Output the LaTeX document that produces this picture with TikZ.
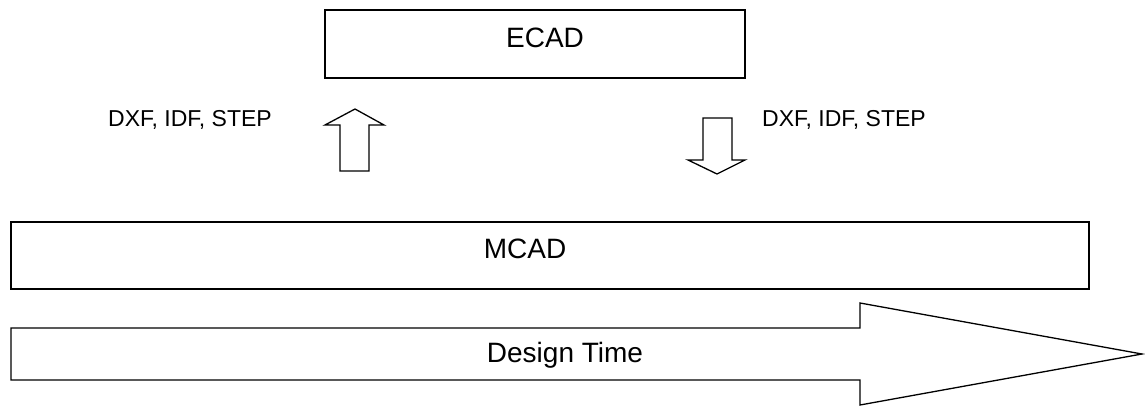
\documentclass[tikz,border=0pt]{standalone}
\usepackage{fontspec}
\setmainfont{Liberation Sans}

\begin{document}
\begin{tikzpicture}[x=1pt,y=-1pt]
\tikzstyle{boite}=[draw,line width=1.6pt,inner sep=0pt]
\tikzset{fleche/.style={draw,line width=1.3pt,line join=miter},
format/.style={font=\fontsize{23}{25}\selectfont,inner sep=0pt,anchor=base}}
\useasboundingbox (0,0) rectangle (1145,406);

\node[boite,minimum width=420pt,minimum height=68pt,
  label={[font=\fontsize{28}{30}\selectfont,xshift=10pt,yshift=6pt]center:ECAD}] (ecad) at (535,44) {};
\node[boite,minimum width=1078pt,minimum height=67pt,
  label={[font=\fontsize{28}{30}\selectfont,xshift=-25pt,yshift=6.5pt]center:MCAD}] (mcad) at (550,255.5) {};

\node[format] (fmtA) at (190,127) {DXF, IDF, STEP};
\node[format] (fmtB) at (844,127) {DXF, IDF, STEP};

% echanges entre les deux outils
\draw[fleche] (340,171) -- (340,125) -- (325,125) -- (355,109) -- (384,125)
  -- (369,125) -- (369,171) -- cycle;
\draw[fleche] (703,118) -- (732,118) -- (732,160) -- (745,160) -- (717,174)
  -- (688,160) -- (703,160) -- cycle;

% axe du temps
\draw[fleche] (11,328) -- (860,328) -- (860,303) -- (1142,354) -- (860,405)
  -- (860,380) -- (11,380) -- cycle;
\node[font=\fontsize{28}{30}\selectfont,inner sep=0pt,anchor=base] (temps) at (565,362) {Design Time};

\end{tikzpicture}
\end{document}
